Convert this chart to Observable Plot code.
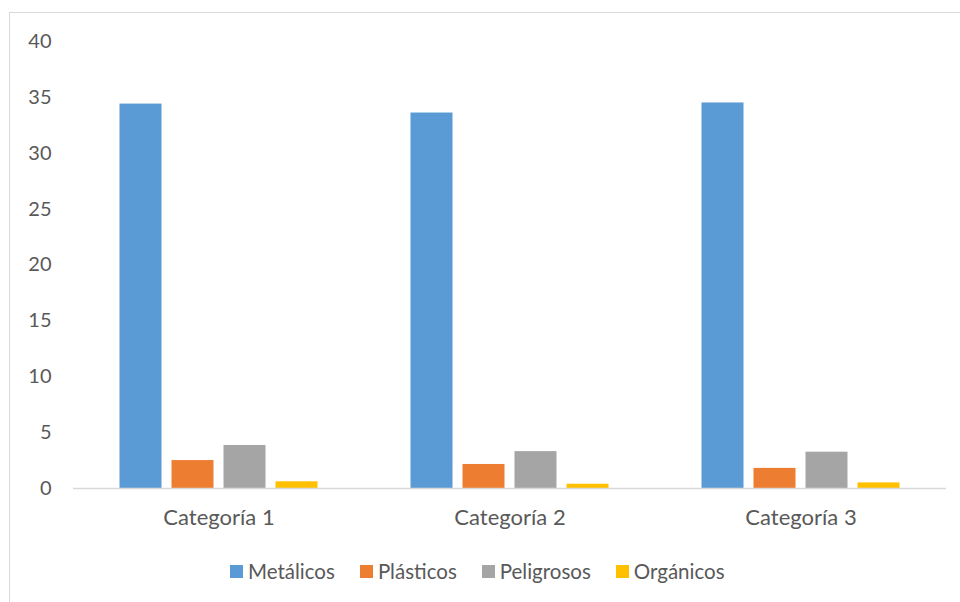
<!DOCTYPE html>
<html>
<head>
<meta charset="utf-8">
<script src="https://cdn.jsdelivr.net/npm/d3@7"></script>
<script src="https://cdn.jsdelivr.net/npm/@observablehq/plot@0.6"></script>
<style>
  html, body { margin: 0; padding: 0; background: #fff; }
  body { width: 960px; height: 602px; position: relative; overflow: hidden; font-family: Lato, "Noto Sans", sans-serif; }
  #frame { position: absolute; left: 9px; top: 12px; width: 1000px; height: 700px; border: 1.5px solid #d9d9d9; box-sizing: border-box; }
  #chart { position: absolute; left: 0; top: 0; }
  #legend { position: absolute; left: 230px; top: 559px; display: flex; align-items: center; color: #595959; font-size: 20.5px; white-space: nowrap; }
  .item { display: flex; align-items: center; margin-right: 25px; }
  .sw { width: 13px; height: 13px; margin-right: 5px; }
</style>
</head>
<body>
<div id="frame"></div>
<div id="chart"></div>
<div id="legend"></div>
<script>
const categories = ["Categoría 1", "Categoría 2", "Categoría 3"];
const series = ["Metálicos", "Plásticos", "Peligrosos", "Orgánicos"];
const colors = ["#5B9BD5", "#ED7D31", "#A5A5A5", "#FFC000"];
const metalicos = [34.4, 33.6, 34.5];
const plasticos = [2.5, 2.15, 1.8];
const peligrosos = [3.85, 3.3, 3.25];
const organicos = [0.6, 0.38, 0.5];
const yTicks = [0, 5, 10, 15, 20, 25, 30, 35, 40];

const valuesBySeries = [metalicos, plasticos, peligrosos, organicos];
const data = [];
categories.forEach((c, i) => {
  series.forEach((s, j) => {
    data.push({category: c, series: s, value: valuesBySeries[j][i]});
  });
});

const chart = Plot.plot({
  width: 960,
  height: 602,
  marginLeft: 72.5,
  marginRight: 14.5,
  marginTop: 41,
  marginBottom: 114,
  style: {fontFamily: "Lato, 'Noto Sans', sans-serif", fontSize: "20px", color: "#595959", background: "transparent"},
  fx: {domain: categories, paddingInner: 0, paddingOuter: 0, label: null, axis: null},
  x: {domain: series, paddingInner: 0.2, paddingOuter: 0.86, axis: null},
  y: {domain: [0, 40], ticks: yTicks, label: null},
  color: {domain: series, range: colors},
  marks: [
    Plot.axisY({ticks: yTicks, tickSize: 0, tickPadding: 22, label: null, fontSize: 20}),
    Plot.axisFx({anchor: "bottom", tickSize: 0, tickPadding: 21, label: null, fontSize: 22}),
    Plot.barY(data, {fx: "category", x: "series", y: "value", fill: "series"}),
    Plot.ruleY([0], {stroke: "#d9d9d9", strokeWidth: 1.5})
  ]
});
document.getElementById("chart").appendChild(chart);

const legend = document.getElementById("legend");
series.forEach((s, j) => {
  const item = document.createElement("div");
  item.className = "item";
  const sw = document.createElement("span");
  sw.className = "sw";
  sw.style.background = colors[j];
  const t = document.createElement("span");
  t.textContent = s;
  item.appendChild(sw);
  item.appendChild(t);
  legend.appendChild(item);
});
</script>
</body>
</html>
